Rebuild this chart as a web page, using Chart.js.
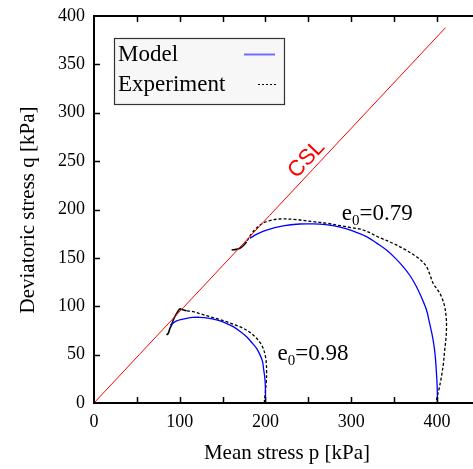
<!DOCTYPE html>
<html>
<head>
<meta charset="utf-8">
<script src="https://cdn.jsdelivr.net/npm/chart.js@4.4.1/dist/chart.umd.min.js"></script>
<style>
  html, body { margin: 0; padding: 0; background: #fff; }
</style>
</head>
<body>
<canvas id="pqChart" width="473" height="469"></canvas>
<script>
// Critical state line (end points)
var cslP = [0, 410];
var cslQ = [0, 388];

// Model, e0 = 0.98 (p0 = 200 kPa)
var modelP1 = [200, 200, 199.3, 197.8, 196.6, 193.5, 189.6, 184, 178, 170.5, 162.4, 153, 143, 133, 123.5, 115, 108, 101, 96.4, 92.5, 89];
var modelQ1 = [0, 12, 25.5, 35, 42.7, 50, 56.5, 62.5, 68.5, 74, 78.9, 82.8, 85.8, 87.8, 88.6, 88.4, 87.5, 86.2, 84.8, 82.8, 80.5];

// Model, e0 = 0.79 (p0 = 400 kPa)
var modelP2 = [400.5, 400.3, 399.4, 397.8, 395.5, 391.5, 387.8, 382, 376.1, 369, 360.5, 351, 341.1, 330, 317.8, 300, 287, 270, 255, 240, 220.6, 201.3, 190, 181.8];
var modelQ2 = [0, 15, 30.7, 50, 65.1, 82, 96.1, 109, 120.2, 131, 140.9, 150, 158.1, 165, 171.9, 178.5, 181.8, 184.3, 185.1, 185, 183, 178.8, 174.5, 170.2];

// Experiment, e0 = 0.98
var expP1 = [198.5, 199.8, 201, 201.3, 200.8, 199.5, 197.3, 194, 189.6, 182.5, 174, 164.5, 154.6, 145, 135.2, 125, 115.7, 108];
var expQ1 = [0, 11, 22, 32, 42.7, 50, 56.5, 62, 66.9, 72.5, 77.2, 80.8, 84, 86.8, 89.2, 92, 94.4, 95.3];
var expStartP1 = [108, 103.5, 100.2, 96.4, 92.4, 90.5, 88.6, 86.6, 84.7];
var expStartQ1 = [95.3, 96.3, 97.2, 92.6, 85.8, 80.6, 77.2, 72, 70.3];

// Experiment, e0 = 0.79
var expP2 = [399.4, 402.5, 405.2, 407.5, 409, 410.5, 411.1, 410.7, 409, 406.5, 403.3, 399.5, 395.5, 392, 387.8, 382.5, 376, 363, 348.8, 333, 314, 300, 287, 270, 255.6, 236.2, 216.8, 205, 196, 189, 183, 178];
var expQ2 = [3, 15, 27.2, 41, 54.8, 67, 78.9, 89, 99.5, 107, 113.4, 118.5, 123.7, 132, 140.9, 146.5, 151.2, 158.5, 165, 171, 178.8, 181.3, 183.3, 186, 187.4, 189.6, 190.2, 188.6, 185.3, 180.5, 174, 166.7];
var expStartP2 = [178, 174, 170.2, 166, 160.5];
var expStartQ2 = [166.7, 162.5, 159.9, 158.8, 158.1];

// tick positions (every 50) and which of them carry a label
var xTickVals = [0, 50, 100, 150, 200, 250, 300, 350, 400];
var xTickLabels = [0, 100, 200, 300, 400];
var yTickVals = [0, 50, 100, 150, 200, 250, 300, 350, 400];

function pts(p, q) {
  return p.map(function (v, i) { return { x: v, y: q[i] }; });
}

var serif = '"Liberation Serif", "Times New Roman", serif';

// frame, inward ticks, legend and annotations
var overlay = {
  id: 'overlay',
  afterDatasetsDraw: function (chart) {
    var ctx = chart.ctx;
    var a = chart.chartArea;
    var xs = chart.scales.x, ys = chart.scales.y;
    ctx.save();

    // axes frame
    ctx.strokeStyle = '#000';
    ctx.lineWidth = 2;
    ctx.beginPath();
    ctx.moveTo(a.right, a.top);
    ctx.lineTo(a.left, a.top);
    ctx.lineTo(a.left, a.bottom);
    ctx.lineTo(a.right, a.bottom);
    ctx.stroke();

    // inward tick marks every 50
    ctx.lineWidth = 1.5;
    ctx.beginPath();
    xs.ticks.forEach(function (t) {
      if (t.value === 0) return;
      var px = Math.round(xs.getPixelForValue(t.value)) + 0.5;
      ctx.moveTo(px, a.bottom); ctx.lineTo(px, a.bottom - 6);
      ctx.moveTo(px, a.top); ctx.lineTo(px, a.top + 6);
    });
    ys.ticks.forEach(function (t) {
      if (t.value === 0 || t.value === 400) return;
      var py = Math.round(ys.getPixelForValue(t.value)) + 0.5;
      ctx.moveTo(a.left, py); ctx.lineTo(a.left + 6, py);
    });
    ctx.stroke();

    // axis titles
    ctx.fillStyle = '#000';
    ctx.font = '21px ' + serif;
    ctx.textAlign = 'center';
    ctx.textBaseline = 'middle';
    ctx.fillText('Mean stress p [kPa]', 287, 453);
    ctx.save();
    ctx.translate(28, 210);
    ctx.rotate(-Math.PI / 2);
    ctx.fillText('Deviatoric stress q [kPa]', 0, 0);
    ctx.restore();

    // legend
    var ds = chart.data.datasets;
    ctx.fillStyle = '#f7f7f7';
    ctx.fillRect(114.5, 38.5, 170, 66);
    ctx.strokeStyle = '#333';
    ctx.lineWidth = 1.2;
    ctx.strokeRect(114.5, 38.5, 170, 66);
    ctx.fillStyle = '#000';
    ctx.font = '23px ' + serif;
    ctx.textAlign = 'left';
    ctx.fillText(ds[1].label, 118, 55);
    ctx.fillText(ds[3].label, 118, 85);
    ctx.strokeStyle = 'rgba(0,0,255,0.55)';
    ctx.lineWidth = 2;
    ctx.beginPath(); ctx.moveTo(244, 54.5); ctx.lineTo(275, 54.5); ctx.stroke();
    ctx.strokeStyle = '#000';
    ctx.lineWidth = 1;
    ctx.setLineDash([2, 2]);
    ctx.beginPath(); ctx.moveTo(258, 84.5); ctx.lineTo(276, 84.5); ctx.stroke();
    ctx.setLineDash([]);

    // void ratio labels
    function e0Label(text, p, q) {
      var x = xs.getPixelForValue(p), y = ys.getPixelForValue(q);
      ctx.textBaseline = 'alphabetic';
      ctx.font = '23px ' + serif;
      ctx.fillText('e', x, y);
      x += ctx.measureText('e').width;
      ctx.font = '15px ' + serif;
      ctx.fillText('0', x, y + 5);
      x += ctx.measureText('0').width;
      ctx.font = '23px ' + serif;
      ctx.fillText(text, x, y);
    }
    e0Label('=0.79', 289, 189);
    e0Label('=0.98', 214, 44.4);

    // CSL label along the line
    var ang = Math.atan2(ys.getPixelForValue(cslQ[1]) - ys.getPixelForValue(cslQ[0]),
                         xs.getPixelForValue(cslP[1]) - xs.getPixelForValue(cslP[0]));
    ctx.save();
    ctx.translate(xs.getPixelForValue(248), ys.getPixelForValue(252));
    ctx.rotate(ang);
    ctx.fillStyle = '#ff0000';
    ctx.font = '22px "Liberation Sans", Arial, sans-serif';
    ctx.textAlign = 'center';
    ctx.textBaseline = 'middle';
    ctx.fillText('CSL', 0, 0);
    ctx.restore();

    ctx.restore();
  }
};

var line = function (label, data, color, width, dash) {
  return {
    label: label,
    data: data,
    showLine: true,
    borderColor: color,
    backgroundColor: color,
    borderWidth: width,
    borderDash: dash || [],
    pointRadius: 0,
    tension: 0.35,
    fill: false
  };
};

var ctx = document.getElementById('pqChart').getContext('2d');
var pqChart = new Chart(ctx, {
  type: 'scatter',
  data: {
    datasets: [
      line('CSL', pts(cslP, cslQ), '#ff0000', 1),
      line('Model', pts(modelP1, modelQ1), '#0000ff', 1.3),
      line('Model', pts(modelP2, modelQ2), '#0000ff', 1.3),
      line('Experiment', pts(expP1, expQ1), '#000', 1.3, [3, 2]),
      line('Experiment', pts(expP2, expQ2), '#000', 1.3, [3, 2]),
      line('Experiment', pts(expStartP1, expStartQ1), '#000', 1.6),
      line('Experiment', pts(expStartP2, expStartQ2), '#000', 1.6)
    ]
  },
  options: {
    responsive: false,
    animation: false,
    layout: { padding: { top: 16, right: 0, left: 0, bottom: 0 } },
    plugins: { legend: { display: false }, tooltip: { enabled: false } },
    scales: {
      x: {
        type: 'linear',
        min: 0,
        max: 442,
        afterBuildTicks: function (s) {
          s.ticks = xTickVals.map(function (v) { return { value: v }; });
        },
        afterFit: function (s) { s.height = 66; s.paddingLeft = 0; s.paddingRight = 0; },
        grid: { display: false, drawTicks: false },
        border: { display: false },
        ticks: {
          autoSkip: false,
          maxRotation: 0,
          padding: 8,
          color: '#000',
          font: { family: serif, size: 18 },
          callback: function (v) { return xTickLabels.indexOf(v) >= 0 ? String(v) : ''; }
        }
      },
      y: {
        type: 'linear',
        min: 0,
        max: 400,
        afterBuildTicks: function (s) {
          s.ticks = yTickVals.map(function (v) { return { value: v }; });
        },
        afterFit: function (s) { s.width = 94; s.paddingTop = 0; s.paddingBottom = 0; },
        grid: { display: false, drawTicks: false },
        border: { display: false },
        ticks: {
          autoSkip: false,
          padding: 9,
          color: '#000',
          font: { family: serif, size: 18 }
        }
      }
    }
  },
  plugins: [overlay]
});
</script>
</body>
</html>
